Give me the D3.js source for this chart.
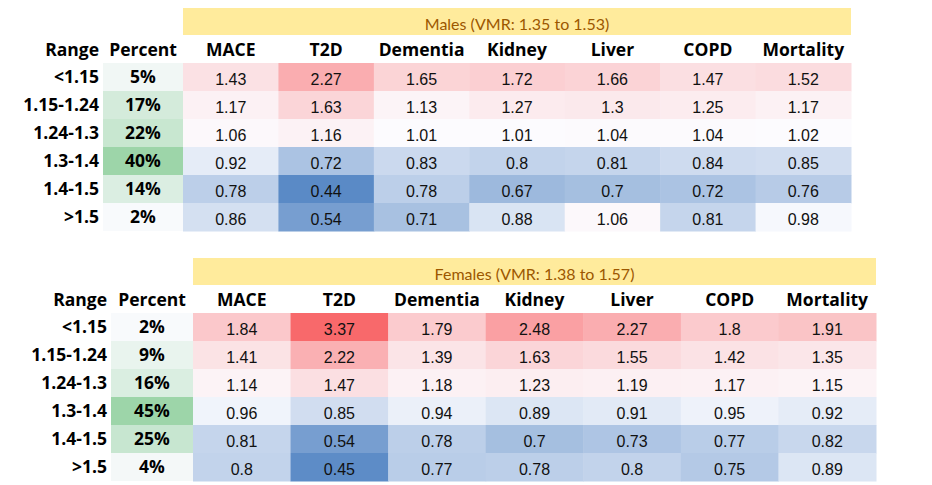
<!DOCTYPE html>
<html>
<head>
<meta charset="utf-8">
<script src="https://cdn.jsdelivr.net/npm/d3@7"></script>
<style>
  html, body { margin: 0; padding: 0; background: #fff; }
  svg { display: block; }
</style>
</head>
<body>
<svg id="chart" width="932" height="485"></svg>
<script>
// ---------- DATA ----------
const outcomes = ["MACE", "T2D", "Dementia", "Kidney", "Liver", "COPD", "Mortality"];
const ranges = ["<1.15", "1.15-1.24", "1.24-1.3", "1.3-1.4", "1.4-1.5", ">1.5"];

const malesTitle = "Males (VMR: 1.35 to 1.53)";
const malesPercent = [5, 17, 22, 40, 14, 2];
const malesValues = [
  [1.43, 2.27, 1.65, 1.72, 1.66, 1.47, 1.52],
  [1.17, 1.63, 1.13, 1.27, 1.3, 1.25, 1.17],
  [1.06, 1.16, 1.01, 1.01, 1.04, 1.04, 1.02],
  [0.92, 0.72, 0.83, 0.8, 0.81, 0.84, 0.85],
  [0.78, 0.44, 0.78, 0.67, 0.7, 0.72, 0.76],
  [0.86, 0.54, 0.71, 0.88, 1.06, 0.81, 0.98]
];

const femalesTitle = "Females (VMR: 1.38 to 1.57)";
const femalesPercent = [2, 9, 16, 45, 25, 4];
const femalesValues = [
  [1.84, 3.37, 1.79, 2.48, 2.27, 1.8, 1.91],
  [1.41, 2.22, 1.39, 1.63, 1.55, 1.42, 1.35],
  [1.14, 1.47, 1.18, 1.23, 1.19, 1.17, 1.15],
  [0.96, 0.85, 0.94, 0.89, 0.91, 0.95, 0.92],
  [0.81, 0.54, 0.78, 0.7, 0.73, 0.77, 0.82],
  [0.8, 0.45, 0.77, 0.78, 0.8, 0.75, 0.89]
];

// ---------- DRAW ----------
const svg = d3.select("#chart");

const allVals = malesValues.flat().concat(femalesValues.flat());
const heat = d3.scaleLinear()
  .domain([d3.min(allVals), 1, d3.max(allVals)])
  .range(["#5A8AC6", "#FCFCFF", "#F8696B"]);

function drawTable(cfg) {
  const g = svg.append("g");
  const rowH = 28;
  const x = d3.scaleBand().domain(outcomes).range([cfg.x0, cfg.x1]);
  const y = d3.scaleBand().domain(ranges).range([cfg.yRows, cfg.yRows + rowH * ranges.length]);
  const green = d3.scaleLinear()
    .domain(d3.extent(cfg.percent))
    .range(["#F8FAFC", "#9DD5A9"]);

  // title band
  g.append("rect")
    .attr("x", cfg.x0).attr("y", cfg.yBand)
    .attr("width", cfg.x1 - cfg.x0).attr("height", 27)
    .attr("fill", "#FFEB9C");
  g.append("text")
    .attr("x", (cfg.x0 + cfg.x1) / 2).attr("y", cfg.yBand + 22)
    .attr("text-anchor", "middle")
    .attr("font-family", "Lato, 'Open Sans', sans-serif")
    .attr("font-size", 16)
    .attr("fill", "#9C5700")
    .text(cfg.title);

  const headFont = "'Open Sans', 'Noto Sans', sans-serif";
  const headSize = 17.5;
  const headY = cfg.yRows - 7;

  // header labels
  g.append("text")
    .attr("x", cfg.rangeRight).attr("y", headY)
    .attr("text-anchor", "end")
    .attr("font-family", headFont).attr("font-weight", 700).attr("font-size", headSize)
    .text("Range");
  g.append("text")
    .attr("x", (cfg.pctX0 + cfg.x0) / 2).attr("y", headY)
    .attr("text-anchor", "middle")
    .attr("font-family", headFont).attr("font-weight", 700).attr("font-size", headSize)
    .text("Percent");
  g.selectAll("text.col")
    .data(outcomes).enter().append("text")
    .attr("class", "col")
    .attr("x", d => x(d) + x.bandwidth() / 2).attr("y", headY)
    .attr("text-anchor", "middle")
    .attr("font-family", headFont).attr("font-weight", 700).attr("font-size", headSize)
    .text(d => d);

  // percent cells
  g.selectAll("rect.pct")
    .data(cfg.percent).enter().append("rect")
    .attr("class", "pct")
    .attr("x", cfg.pctX0).attr("y", (d, i) => y(ranges[i]))
    .attr("width", cfg.x0 - cfg.pctX0).attr("height", y.bandwidth())
    .attr("fill", d => green(d));
  g.selectAll("text.pct")
    .data(cfg.percent).enter().append("text")
    .attr("class", "pct")
    .attr("x", (cfg.pctX0 + cfg.x0) / 2).attr("y", (d, i) => y(ranges[i]) + 20)
    .attr("text-anchor", "middle")
    .attr("font-family", headFont).attr("font-weight", 700).attr("font-size", headSize)
    .text(d => d + "%");

  // range labels
  g.selectAll("text.rng")
    .data(ranges).enter().append("text")
    .attr("class", "rng")
    .attr("x", cfg.rangeRight).attr("y", d => y(d) + 20)
    .attr("text-anchor", "end")
    .attr("font-family", headFont).attr("font-weight", 700).attr("font-size", headSize)
    .text(d => d);

  // heat cells
  const cells = [];
  cfg.values.forEach((row, i) => row.forEach((v, j) => cells.push({ r: ranges[i], c: outcomes[j], v })));
  g.selectAll("rect.cell")
    .data(cells).enter().append("rect")
    .attr("class", "cell")
    .attr("x", d => x(d.c)).attr("y", d => y(d.r))
    .attr("width", x.bandwidth() + 0.5).attr("height", y.bandwidth() + 0.5)
    .attr("fill", d => heat(d.v));
  g.selectAll("text.cell")
    .data(cells).enter().append("text")
    .attr("class", "cell")
    .attr("x", d => x(d.c) + x.bandwidth() / 2).attr("y", d => y(d.r) + 22)
    .attr("text-anchor", "middle")
    .attr("font-family", "'Liberation Sans', Arial, sans-serif")
    .attr("font-size", 16)
    .attr("fill", "#111")
    .text(d => String(d.v));
}

drawTable({
  title: malesTitle, percent: malesPercent, values: malesValues,
  x0: 183, x1: 851, yBand: 8, yRows: 63, pctX0: 103, rangeRight: 99
});
drawTable({
  title: femalesTitle, percent: femalesPercent, values: femalesValues,
  x0: 193, x1: 876, yBand: 258, yRows: 313, pctX0: 111, rangeRight: 107
});
</script>
</body>
</html>
